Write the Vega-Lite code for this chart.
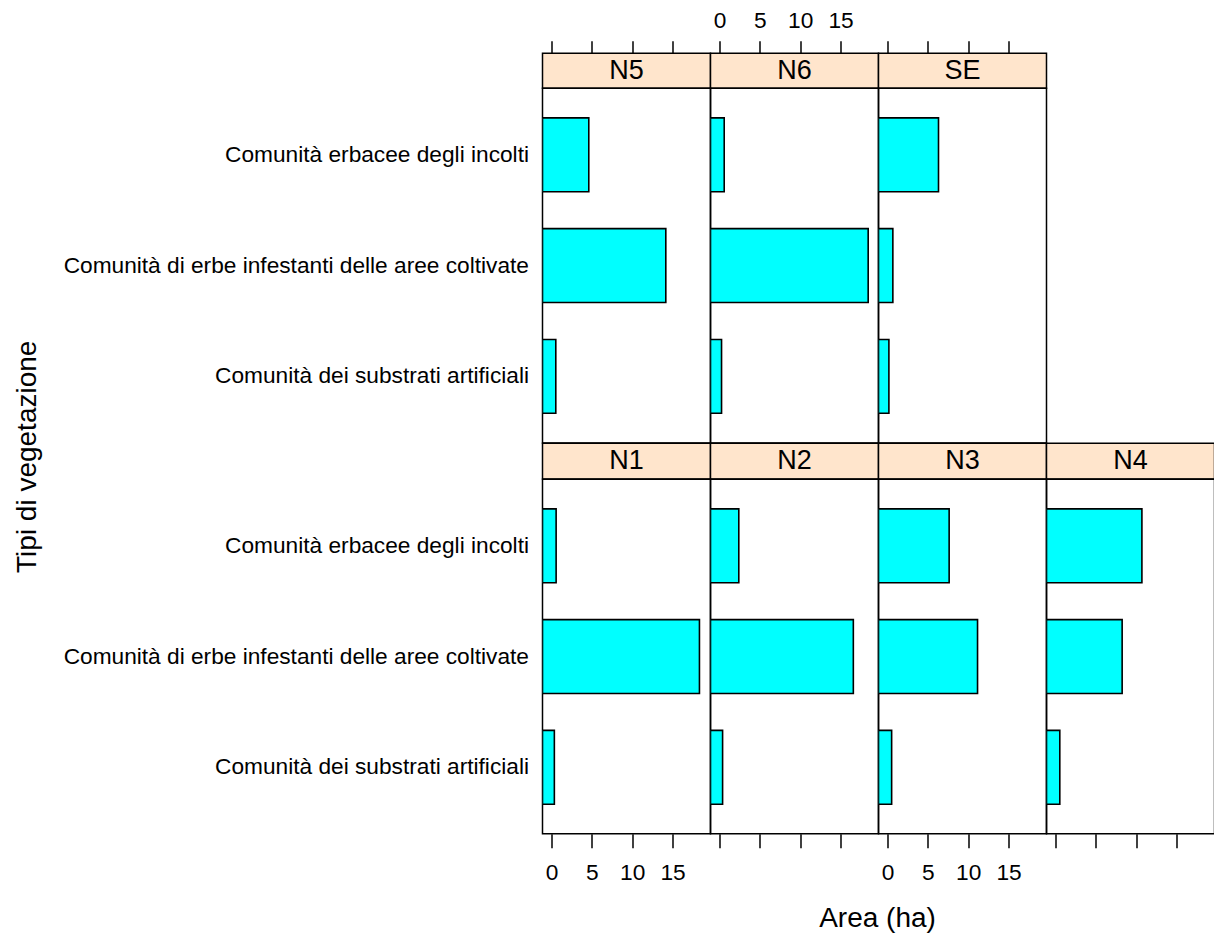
{
  "$schema": "https://vega.github.io/schema/vega-lite/v6.json",
  "padding": {"left": 12.5, "top": 8.3, "right": 0, "bottom": 0},
  "background": "white",
  "data": {"values": [
    {"panel": "N5", "tipo": "Comunità erbacee degli incolti", "area": 4.62},
    {"panel": "N5", "tipo": "Comunità di erbe infestanti delle aree coltivate", "area": 14.17},
    {"panel": "N5", "tipo": "Comunità dei substrati artificiali", "area": 0.53},
    {"panel": "N6", "tipo": "Comunità erbacee degli incolti", "area": 0.58},
    {"panel": "N6", "tipo": "Comunità di erbe infestanti delle aree coltivate", "area": 18.43},
    {"panel": "N6", "tipo": "Comunità dei substrati artificiali", "area": 0.25},
    {"panel": "SE", "tipo": "Comunità erbacee degli incolti", "area": 6.32},
    {"panel": "SE", "tipo": "Comunità di erbe infestanti delle aree coltivate", "area": 0.66},
    {"panel": "SE", "tipo": "Comunità dei substrati artificiali", "area": 0.17},
    {"panel": "N1", "tipo": "Comunità erbacee degli incolti", "area": 0.57},
    {"panel": "N1", "tipo": "Comunità di erbe infestanti delle aree coltivate", "area": 18.34},
    {"panel": "N1", "tipo": "Comunità dei substrati artificiali", "area": 0.35},
    {"panel": "N2", "tipo": "Comunità erbacee degli incolti", "area": 2.39},
    {"panel": "N2", "tipo": "Comunità di erbe infestanti delle aree coltivate", "area": 16.59},
    {"panel": "N2", "tipo": "Comunità dei substrati artificiali", "area": 0.38},
    {"panel": "N3", "tipo": "Comunità erbacee degli incolti", "area": 7.64},
    {"panel": "N3", "tipo": "Comunità di erbe infestanti delle aree coltivate", "area": 11.16},
    {"panel": "N3", "tipo": "Comunità dei substrati artificiali", "area": 0.51},
    {"panel": "N4", "tipo": "Comunità erbacee degli incolti", "area": 10.71},
    {"panel": "N4", "tipo": "Comunità di erbe infestanti delle aree coltivate", "area": 8.26},
    {"panel": "N4", "tipo": "Comunità dei substrati artificiali", "area": 0.53}
  ]},
  "config": {
    "font": "Liberation Sans",
    "view": {"stroke": "black", "strokeWidth": 1.5},
    "axis": {"grid": false, "domain": false, "tickColor": "black", "tickWidth": 1.5, "labelColor": "black", "labelFont": "Liberation Sans", "labelFontSize": 22.7, "titleFont": "Liberation Sans", "titleFontSize": 28, "titleFontWeight": "normal", "titleColor": "black", "labelFlush": false, "labelOverlap": false},
    "text": {"font": "Liberation Sans"}
  },
  "bounds": "flush",
  "spacing": 0,
  "align": "each",
  "columns": 4,
  "concat": [
    {"width": 168, "height": 35, "view": {"fill": "#ffe5cc", "stroke": "black", "strokeWidth": 1.5},
     "transform": [{"filter": "datum.panel === 'N5'"}, {"aggregate": [{"op": "count", "as": "n"}], "groupby": ["panel"]}],
     "mark": {"type": "text", "fontSize": 27, "color": "black", "baseline": "middle"},
     "encoding": {"text": {"field": "panel"},
       "x": {"datum": 9.295, "type": "quantitative", "scale": {"domain": [-1.12, 19.71], "nice": false, "zero": false},
         "axis": {"orient": "top", "values": [0, 5, 10, 15], "labels": false, "tickSize": 12.5, "title": null}}}},
    {"width": 168, "height": 35, "view": {"fill": "#ffe5cc", "stroke": "black", "strokeWidth": 1.5},
     "transform": [{"filter": "datum.panel === 'N6'"}, {"aggregate": [{"op": "count", "as": "n"}], "groupby": ["panel"]}],
     "mark": {"type": "text", "fontSize": 27, "color": "black", "baseline": "middle"},
     "encoding": {"text": {"field": "panel"},
       "x": {"datum": 9.295, "type": "quantitative", "scale": {"domain": [-1.12, 19.71], "nice": false, "zero": false},
         "axis": {"orient": "top", "values": [0, 5, 10, 15], "labels": true, "tickSize": 12.5, "labelPadding": 8, "title": null}}}},
    {"width": 168, "height": 35, "view": {"fill": "#ffe5cc", "stroke": "black", "strokeWidth": 1.5},
     "transform": [{"filter": "datum.panel === 'SE'"}, {"aggregate": [{"op": "count", "as": "n"}], "groupby": ["panel"]}],
     "mark": {"type": "text", "fontSize": 27, "color": "black", "baseline": "middle"},
     "encoding": {"text": {"field": "panel"},
       "x": {"datum": 9.295, "type": "quantitative", "scale": {"domain": [-1.12, 19.71], "nice": false, "zero": false},
         "axis": {"orient": "top", "values": [0, 5, 10, 15], "labels": false, "tickSize": 12.5, "title": null}}}},
    {"width": 168, "height": 35, "view": {"stroke": null, "fill": null},
     "transform": [{"filter": "false"}],
     "mark": {"type": "text"},
     "encoding": {"text": {"field": "panel"}}},

    {"width": 168, "height": 354.6,
     "transform": [{"filter": "datum.panel === 'N5'"}],
     "mark": {"type": "bar", "fill": "#00ffff", "fillOpacity": 1, "stroke": "black", "strokeWidth": 1.6, "clip": true},
     "encoding": {
       "y": {"field": "tipo", "type": "nominal", "scale": {"domain": ["Comunità erbacee degli incolti", "Comunità di erbe infestanti delle aree coltivate", "Comunità dei substrati artificiali"], "paddingInner": 0.333, "paddingOuter": 0.267},
         "axis": {"title": null, "ticks": false, "labelPadding": 14, "labelLimit": 1000}},
       "x": {"field": "area", "type": "quantitative", "scale": {"domain": [-1.12, 19.71], "nice": false, "zero": false}, "axis": null},
       "x2": {"datum": -1.12}}},
    {"width": 168, "height": 354.6,
     "transform": [{"filter": "datum.panel === 'N6'"}],
     "mark": {"type": "bar", "fill": "#00ffff", "fillOpacity": 1, "stroke": "black", "strokeWidth": 1.6, "clip": true},
     "encoding": {
       "y": {"field": "tipo", "type": "nominal", "scale": {"domain": ["Comunità erbacee degli incolti", "Comunità di erbe infestanti delle aree coltivate", "Comunità dei substrati artificiali"], "paddingInner": 0.333, "paddingOuter": 0.267}, "axis": null},
       "x": {"field": "area", "type": "quantitative", "scale": {"domain": [-1.12, 19.71], "nice": false, "zero": false}, "axis": null},
       "x2": {"datum": -1.12}}},
    {"width": 168, "height": 354.6,
     "transform": [{"filter": "datum.panel === 'SE'"}],
     "mark": {"type": "bar", "fill": "#00ffff", "fillOpacity": 1, "stroke": "black", "strokeWidth": 1.6, "clip": true},
     "encoding": {
       "y": {"field": "tipo", "type": "nominal", "scale": {"domain": ["Comunità erbacee degli incolti", "Comunità di erbe infestanti delle aree coltivate", "Comunità dei substrati artificiali"], "paddingInner": 0.333, "paddingOuter": 0.267}, "axis": null},
       "x": {"field": "area", "type": "quantitative", "scale": {"domain": [-1.12, 19.71], "nice": false, "zero": false}, "axis": null},
       "x2": {"datum": -1.12}}},
    {"width": 168, "height": 354.6, "view": {"stroke": null, "fill": null},
     "transform": [{"filter": "false"}],
     "mark": {"type": "text"},
     "encoding": {"text": {"field": "panel"}}},

    {"width": 168, "height": 35.6, "view": {"fill": "#ffe5cc", "stroke": "black", "strokeWidth": 1.5},
     "transform": [{"filter": "datum.panel === 'N1'"}, {"aggregate": [{"op": "count", "as": "n"}], "groupby": ["panel"]}],
     "mark": {"type": "text", "fontSize": 27, "color": "black", "baseline": "middle"},
     "encoding": {"text": {"field": "panel"},
       "x": {"datum": 9.295, "type": "quantitative", "scale": {"domain": [-1.12, 19.71], "nice": false, "zero": false}, "axis": null}}},
    {"width": 168, "height": 35.6, "view": {"fill": "#ffe5cc", "stroke": "black", "strokeWidth": 1.5},
     "transform": [{"filter": "datum.panel === 'N2'"}, {"aggregate": [{"op": "count", "as": "n"}], "groupby": ["panel"]}],
     "mark": {"type": "text", "fontSize": 27, "color": "black", "baseline": "middle"},
     "encoding": {"text": {"field": "panel"},
       "x": {"datum": 9.295, "type": "quantitative", "scale": {"domain": [-1.12, 19.71], "nice": false, "zero": false}, "axis": null}}},
    {"width": 168, "height": 35.6, "view": {"fill": "#ffe5cc", "stroke": "black", "strokeWidth": 1.5},
     "transform": [{"filter": "datum.panel === 'N3'"}, {"aggregate": [{"op": "count", "as": "n"}], "groupby": ["panel"]}],
     "mark": {"type": "text", "fontSize": 27, "color": "black", "baseline": "middle"},
     "encoding": {"text": {"field": "panel"},
       "x": {"datum": 9.295, "type": "quantitative", "scale": {"domain": [-1.12, 19.71], "nice": false, "zero": false}, "axis": null}}},
    {"width": 168, "height": 35.6, "view": {"fill": "#ffe5cc", "stroke": "black", "strokeWidth": 1.5},
     "transform": [{"filter": "datum.panel === 'N4'"}, {"aggregate": [{"op": "count", "as": "n"}], "groupby": ["panel"]}],
     "mark": {"type": "text", "fontSize": 27, "color": "black", "baseline": "middle"},
     "encoding": {"text": {"field": "panel"},
       "x": {"datum": 9.295, "type": "quantitative", "scale": {"domain": [-1.12, 19.71], "nice": false, "zero": false}, "axis": null}}},

    {"width": 168, "height": 354.5,
     "transform": [{"filter": "datum.panel === 'N1'"}],
     "mark": {"type": "bar", "fill": "#00ffff", "fillOpacity": 1, "stroke": "black", "strokeWidth": 1.6, "clip": true},
     "encoding": {
       "y": {"field": "tipo", "type": "nominal", "scale": {"domain": ["Comunità erbacee degli incolti", "Comunità di erbe infestanti delle aree coltivate", "Comunità dei substrati artificiali"], "paddingInner": 0.333, "paddingOuter": 0.267},
         "axis": {"title": "Tipi di vegetazione", "ticks": false, "labelPadding": 14, "labelLimit": 1000, "titleX": -514.7, "titleY": -23, "titleAngle": 270, "titleAlign": "center", "titleBaseline": "middle"}},
       "x": {"field": "area", "type": "quantitative", "scale": {"domain": [-1.12, 19.71], "nice": false, "zero": false},
         "axis": {"orient": "bottom", "values": [0, 5, 10, 15], "labels": true, "tickSize": 14, "labelPadding": 13.5, "title": null}},
       "x2": {"datum": -1.12}}},
    {"width": 168, "height": 354.5,
     "transform": [{"filter": "datum.panel === 'N2'"}],
     "mark": {"type": "bar", "fill": "#00ffff", "fillOpacity": 1, "stroke": "black", "strokeWidth": 1.6, "clip": true},
     "encoding": {
       "y": {"field": "tipo", "type": "nominal", "scale": {"domain": ["Comunità erbacee degli incolti", "Comunità di erbe infestanti delle aree coltivate", "Comunità dei substrati artificiali"], "paddingInner": 0.333, "paddingOuter": 0.267}, "axis": null},
       "x": {"field": "area", "type": "quantitative", "scale": {"domain": [-1.12, 19.71], "nice": false, "zero": false},
         "axis": {"orient": "bottom", "values": [0, 5, 10, 15], "labels": false, "tickSize": 14, "title": "Area (ha)", "titleX": 166.5, "titleY": 84.3, "titleAlign": "center", "titleBaseline": "middle"}},
       "x2": {"datum": -1.12}}},
    {"width": 168, "height": 354.5,
     "transform": [{"filter": "datum.panel === 'N3'"}],
     "mark": {"type": "bar", "fill": "#00ffff", "fillOpacity": 1, "stroke": "black", "strokeWidth": 1.6, "clip": true},
     "encoding": {
       "y": {"field": "tipo", "type": "nominal", "scale": {"domain": ["Comunità erbacee degli incolti", "Comunità di erbe infestanti delle aree coltivate", "Comunità dei substrati artificiali"], "paddingInner": 0.333, "paddingOuter": 0.267}, "axis": null},
       "x": {"field": "area", "type": "quantitative", "scale": {"domain": [-1.12, 19.71], "nice": false, "zero": false},
         "axis": {"orient": "bottom", "values": [0, 5, 10, 15], "labels": true, "tickSize": 14, "labelPadding": 13.5, "title": null}},
       "x2": {"datum": -1.12}}},
    {"width": 168, "height": 354.5,
     "transform": [{"filter": "datum.panel === 'N4'"}],
     "mark": {"type": "bar", "fill": "#00ffff", "fillOpacity": 1, "stroke": "black", "strokeWidth": 1.6, "clip": true},
     "encoding": {
       "y": {"field": "tipo", "type": "nominal", "scale": {"domain": ["Comunità erbacee degli incolti", "Comunità di erbe infestanti delle aree coltivate", "Comunità dei substrati artificiali"], "paddingInner": 0.333, "paddingOuter": 0.267}, "axis": null},
       "x": {"field": "area", "type": "quantitative", "scale": {"domain": [-1.12, 19.71], "nice": false, "zero": false},
         "axis": {"orient": "bottom", "values": [0, 5, 10, 15], "labels": false, "tickSize": 14, "title": null}},
       "x2": {"datum": -1.12}}}
  ]
}
